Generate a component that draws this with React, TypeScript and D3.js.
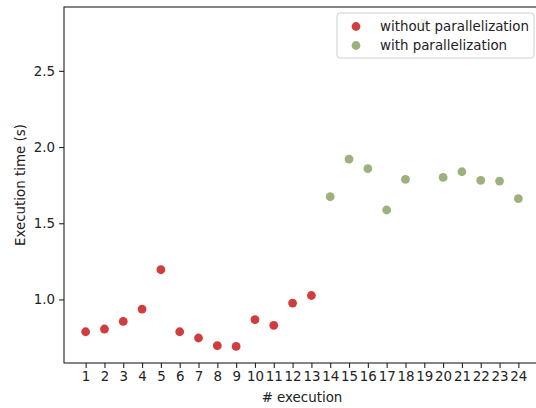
import React, {useEffect, useRef} from 'react'
import * as d3 from 'd3'

// # execution
const runsWithout = [1, 2, 3, 4, 5, 6, 7, 8, 9, 10, 11, 12, 13]
const timesWithout = [0.788, 0.806, 0.856, 0.937, 1.195, 0.788, 0.747, 0.697, 0.692, 0.867, 0.830, 0.976, 1.026]

const runsWith = [14, 15, 16, 17, 18, 19, 20, 21, 22, 23, 24]
const timesWith = [1.674, 1.921, 1.858, 1.587, 1.788, 2.815, 1.801, 1.838, 1.782, 1.777, 1.661]

const xTicks = d3.range(1, 25)
const yTicks = [1.0, 1.5, 2.0, 2.5]

const seriesNames = ['without parallelization', 'with parallelization']
const colors = ['#d13d3d', '#9fb07f']

const W = 536
const H = 408
const FONT = 'DejaVu Sans, sans-serif'
const FS = 13.4

const App = () => {
    const ref = useRef<SVGSVGElement>(null)

    useEffect(() => {
        const svg = d3.select(ref.current)
        svg.selectAll('*').remove()

        const left = 64, right = 540, top = 7, bottom = 363

        const x = d3.scaleLinear().domain([-0.15, 25.15]).range([left, right])
        const y = d3.scaleLinear().domain([0.583, 2.919]).range([bottom, top])

        // points
        const drawSeries = (xs: number[], ys: number[], color: string) => {
            svg.append('g')
                .selectAll('circle')
                .data(xs.map((d, i) => [d, ys[i]]))
                .enter()
                .append('circle')
                .attr('cx', d => x(d[0]))
                .attr('cy', d => y(d[1]))
                .attr('r', 4.4)
                .attr('fill', color)
        }
        drawSeries(runsWithout, timesWithout, colors[0])
        drawSeries(runsWith, timesWith, colors[1])

        // axes
        const xAxis = svg.append('g')
            .attr('transform', `translate(0,${bottom})`)
            .call(d3.axisBottom(x).tickValues(xTicks).tickFormat(d3.format('d')).tickSizeOuter(0).tickSize(4.9).tickPadding(4))
        const yAxis = svg.append('g')
            .attr('transform', `translate(${left},0)`)
            .call(d3.axisLeft(y).tickValues(yTicks).tickFormat(d3.format('.1f')).tickSizeOuter(0).tickSize(4.9).tickPadding(4))

        for (const ax of [xAxis, yAxis]) {
            ax.selectAll('text').attr('font-family', FONT).attr('font-size', FS).attr('fill', '#222')
            ax.selectAll('line').attr('stroke', '#222').attr('stroke-width', 1.1)
            ax.select('.domain').remove()
        }

        // spines (right one falls just outside the picture)
        svg.append('rect')
            .attr('x', left).attr('y', top)
            .attr('width', right - left).attr('height', bottom - top)
            .attr('fill', 'none').attr('stroke', '#222').attr('stroke-width', 1.1)

        // labels
        svg.append('text')
            .attr('x', (left + right) / 2).attr('y', 402)
            .attr('text-anchor', 'middle')
            .attr('font-family', FONT).attr('font-size', FS).attr('fill', '#222')
            .text('# execution')
        svg.append('text')
            .attr('transform', `translate(25,${(top + bottom) / 2}) rotate(-90)`)
            .attr('text-anchor', 'middle')
            .attr('font-family', FONT).attr('font-size', FS).attr('fill', '#222')
            .text('Execution time (s)')

        // legend
        const lg = svg.append('g').attr('transform', 'translate(337,13)')
        lg.append('rect')
            .attr('width', 197).attr('height', 45)
            .attr('rx', 3)
            .attr('fill', 'white').attr('fill-opacity', 0.8)
            .attr('stroke', '#d0d0d0').attr('stroke-width', 1)
        seriesNames.forEach((name, i) => {
            lg.append('circle')
                .attr('cx', 19).attr('cy', 13.5 + i * 19)
                .attr('r', 4.4)
                .attr('fill', colors[i])
            lg.append('text')
                .attr('x', 43).attr('y', 13.5 + i * 19)
                .attr('dy', '0.35em')
                .attr('font-family', FONT).attr('font-size', FS).attr('fill', '#222')
                .text(name)
        })
    }, [])

    return (
        <svg ref={ref} width={W} height={H} style={{position: 'absolute', left: 0, top: 0, background: 'white'}}/>
    )
}

export default App
